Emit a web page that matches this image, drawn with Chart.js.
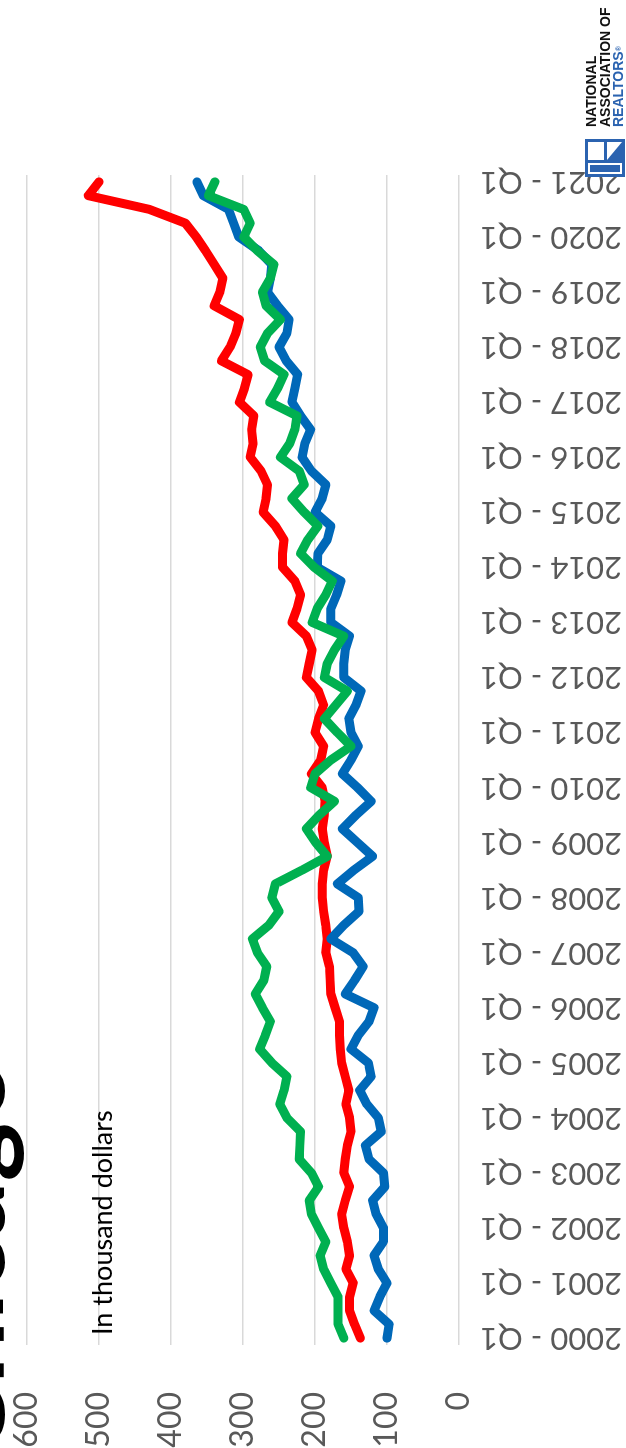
<!DOCTYPE html>
<html>
<head>
<meta charset="utf-8">
<script src="https://cdn.jsdelivr.net/npm/chart.js@4.4.1/dist/chart.umd.min.js"></script>
<style>
  html, body { margin: 0; padding: 0; background: #fff; overflow: hidden; }
  body { width: 626px; height: 1448px; position: relative; }
  /* the slide is laid out landscape and turned a quarter left */
  #slide {
    position: absolute; left: 0; top: 0;
    width: 1448px; height: 626px;
    transform-origin: 0 0;
    transform: translateY(1448px) rotate(-90deg);
    overflow: hidden; background: #fff;
    font-family: Lato, "Open Sans", sans-serif;
  }
  #chart { position: absolute; left: 0; top: 0; }
  #title { position: absolute; left: -10px; top: -94px; font-size: 112px; line-height: 110px; font-weight: 700; color: #000; white-space: nowrap; }
  #unit { position: absolute; left: 113px; top: 86px; font-size: 27px; line-height: 32px; color: #000; white-space: nowrap; }
  #logo { position: absolute; left: 1271px; top: 585px; height: 40px; }
  #logo svg { position: absolute; left: 0; top: 0; }
  #nar { position: absolute; left: 50px; top: 0; font-family: "Liberation Sans", Arial, sans-serif; font-weight: 700; font-size: 14px; line-height: 13.5px; color: #111; white-space: nowrap; }
  #nar .blue { color: #2b63b0; }
  #nar sup { font-size: 7px; vertical-align: top; }
</style>
</head>
<body>
<div id="slide">
  <canvas id="chart" width="1448" height="626"></canvas>
  <div id="title">Chicago</div>
  <div id="unit">In thousand dollars</div>
  <div id="logo">
    <svg width="38" height="40" viewBox="0 0 38 40">
      <rect width="38" height="40" fill="#2b63b0"/>
      <rect x="3" y="3" width="11" height="34" fill="#fff"/>
      <rect x="5" y="5" width="7" height="30" fill="#2b63b0"/>
      <rect x="17" y="3" width="18" height="16" fill="#fff"/>
      <polygon points="17,22 35,22 35,37" fill="#fff"/>
    </svg>
    <div id="nar">NATIONAL<br>ASSOCIATION OF<br><span class="blue">REALTORS<sup>®</sup></span></div>
  </div>
</div>
<script>
var years = [2000, 2001, 2002, 2003, 2004, 2005, 2006, 2007, 2008, 2009, 2010,
             2011, 2012, 2013, 2014, 2015, 2016, 2017, 2018, 2019, 2020, 2021];
var quarters = ['Q1', 'Q2', 'Q3', 'Q4'];
var yTicks = [0, 100, 200, 300, 400, 500, 600];

// quarterly values, thousand dollars, 2000 Q1 .. 2021 Q1
var blueValues = [
  100, 97, 118, 110, 100, 112, 118, 105, 105, 115, 120, 103, 105, 125, 130,
  108, 112, 128, 138, 122, 126, 150, 140, 125, 118, 158, 145, 133, 147,
  178, 160, 139, 140, 169, 146, 120, 141, 162, 143, 122, 141, 162, 150,
  140, 150, 153, 143, 136, 160, 160, 158, 152, 178, 178, 170, 164, 197,
  196, 183, 178, 200, 190, 185, 205, 218, 214, 206, 220, 232, 228, 224,
  240, 250, 239, 236, 252, 266, 262, 260, 278, 306, 313, 320, 355, 364
];
var redValues = [
  137, 145, 152, 152, 147, 157, 152, 155, 160, 163, 158, 152, 160, 158, 155,
  150, 152, 157, 153, 158, 163, 165, 166, 166, 172, 178, 179, 180, 185,
  183, 185, 188, 190, 190, 188, 183, 187, 190, 187, 186, 190, 205, 192,
  188, 200, 195, 188, 195, 212, 208, 204, 212, 232, 225, 220, 228, 245,
  245, 243, 255, 272, 268, 266, 275, 290, 286, 288, 285, 305, 298, 293,
  330, 318, 310, 305, 340, 332, 328, 340, 352, 365, 380, 430, 515, 500
];
var greenValues = [
  160, 168, 168, 168, 178, 188, 193, 185, 195, 205, 208, 195, 205, 222, 221,
  220, 239, 249, 243, 239, 260, 277, 269, 262, 273, 283, 271, 267, 280,
  287, 264, 250, 260, 255, 218, 183, 199, 212, 194, 173, 206, 200, 178,
  150, 169, 187, 171, 155, 187, 183, 173, 160, 204, 197, 185, 176, 201,
  220, 210, 196, 215, 232, 215, 222, 248, 235, 228, 225, 263, 252, 243,
  270, 276, 266, 248, 268, 273, 262, 257, 280, 299, 290, 299, 348, 339
];

var labels = [];
years.forEach(function (y) {
  quarters.forEach(function (q) {
    if (y < 2021 || q === 'Q1') labels.push(y + ' - ' + q);
  });
});

// fixed box sizes so the plot sits where the slide has it
function noPad(scale) {
  scale.paddingLeft = 0;
  scale.paddingRight = 0;
  scale.paddingTop = 0;
  scale.paddingBottom = 0;
}

var ctx = document.getElementById('chart').getContext('2d');
window.priceChart = new Chart(ctx, {
  type: 'line',
  data: {
    labels: labels,
    datasets: [{
      label: 'Series 3',
      data: greenValues,
      borderColor: '#00b050',
      order: 0
    }, {
      label: 'Series 1',
      data: blueValues,
      borderColor: '#0068b8',
      order: 1
    }, {
      label: 'Series 2',
      data: redValues,
      borderColor: '#ff0000',
      order: 2
    }]
  },
  options: {
    responsive: false,
    animation: false,
    elements: {
      line: { borderWidth: 9, tension: 0, borderCapStyle: 'round', borderJoinStyle: 'round', fill: false },
      point: { radius: 0, hoverRadius: 0 }
    },
    layout: { padding: { left: 0, right: 175, top: 27, bottom: 0 } },
    plugins: {
      legend: { display: false },
      title: { display: false },
      tooltip: { enabled: false }
    },
    scales: {
      x: {
        offset: true,
        grid: { display: false, drawTicks: false },
        border: { display: false },
        afterFit: function (scale) { noPad(scale); scale.height = 167; },
        ticks: {
          autoSkip: false,
          minRotation: 90,
          maxRotation: 90,
          padding: 21,
          color: '#595959',
          font: { family: 'Lato', size: 31 },
          callback: function (v, i) { return i % 4 === 0 ? labels[i] : ''; }
        }
      },
      y: {
        min: yTicks[0],
        max: yTicks[yTicks.length - 1],
        grid: { color: '#d9d9d9', lineWidth: 1.5, drawTicks: false },
        border: { display: false },
        afterFit: function (scale) { noPad(scale); scale.width = 103; },
        ticks: {
          stepSize: 100,
          padding: 47,
          color: '#595959',
          font: { family: 'Lato', size: 32 }
        }
      }
    }
  }
});
</script>
</body>
</html>
